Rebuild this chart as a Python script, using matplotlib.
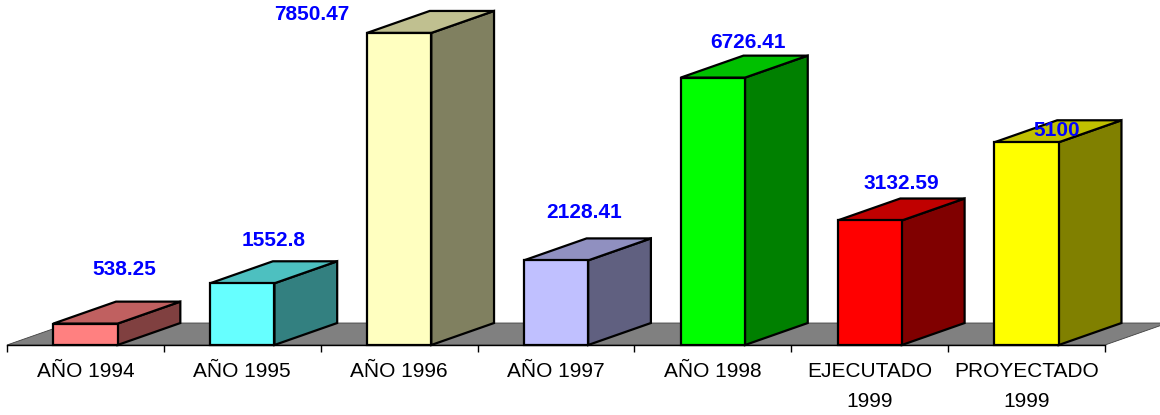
import matplotlib
matplotlib.use("Agg")
from matplotlib import pyplot as plt
from matplotlib.patches import Polygon, Rectangle

plt.rcParams['font.family'] = ['Liberation Sans', 'DejaVu Sans']

# data
categories = ["AÑO 1994", "AÑO 1995", "AÑO 1996", "AÑO 1997", "AÑO 1998",
              "EJECUTADO\n1999", "PROYECTADO\n1999"]
values = [538.25, 1552.8, 7850.47, 2128.41, 6726.41, 3132.59, 5100]
value_labels = ["538.25", "1552.8", "7850.47", "2128.41", "6726.41", "3132.59", "5100"]

# face colours: front, side, top
front_colors = ['#FF8080', '#66FFFF', '#FFFFC0', '#C0C0FF', '#00FF00', '#FF0000', '#FFFF00']
side_colors = ['#804040', '#338080', '#808060', '#606080', '#008000', '#800000', '#808000']
top_colors = ['#C06060', '#4DC0C0', '#C0C090', '#9090C0', '#00C000', '#C00000', '#C0C000']

# label offsets from front-top centre of each bar, in pixels (right, up)
label_offsets = [(39, 54), (31, 43), (-87, 18), (28, 48), (35, 35), (32, 37), (30, 12)]

W, H = 1160, 415
fig = plt.figure(figsize=(W / 100, H / 100), dpi=100)
ax = fig.add_axes([7 / W, 70 / H, (1105 - 7) / W, 345 / H])

ymax = 8679
ax.set_xlim(-0.5, 6.5)
ax.set_ylim(0, ymax)

bar_w = 0.41
dx = 0.40   # depth in category units
dy = 553    # depth in value units
lw = 1.6

# floor
floor = Polygon([(-0.5, 0), (6.5, 0), (6.5 + dx, dy), (-0.5 + dx, dy)],
                closed=True, facecolor='#808080', edgecolor='#404040',
                linewidth=0.6, clip_on=False, zorder=1)
ax.add_patch(floor)

for i, v in enumerate(values):
    x0 = i - bar_w / 2
    x1 = i + bar_w / 2
    side = Polygon([(x1, 0), (x1 + dx, dy), (x1 + dx, v + dy), (x1, v)],
                   closed=True, facecolor=side_colors[i], edgecolor='black',
                   linewidth=lw, clip_on=False, zorder=2, joinstyle='miter')
    top = Polygon([(x0, v), (x1, v), (x1 + dx, v + dy), (x0 + dx, v + dy)],
                  closed=True, facecolor=top_colors[i], edgecolor='black',
                  linewidth=lw, clip_on=False, zorder=2, joinstyle='miter')
    front = Rectangle((x0, 0), bar_w, v, facecolor=front_colors[i],
                      edgecolor='black', linewidth=lw, clip_on=False, zorder=3)
    ax.add_patch(side)
    ax.add_patch(top)
    ax.add_patch(front)
    ox, oy = label_offsets[i]
    ax.annotate(value_labels[i], (i, v), xytext=(ox * 0.72, oy * 0.72),
                textcoords='offset points', ha='center', va='center',
                color='#0000FF', fontsize=15, fontweight='bold',
                annotation_clip=False, zorder=5)

for s in ['top', 'right', 'left']:
    ax.spines[s].set_visible(False)
ax.spines['bottom'].set_linewidth(1.0)
ax.spines['bottom'].set_zorder(4)

ax.set_yticks([])
ax.set_xticks([i - 0.5 for i in range(len(values) + 1)])
ax.set_xticklabels([])
ax.tick_params(axis='x', which='major', length=5, width=1.0, direction='out')
ax.set_xticks(range(len(values)), minor=True)
ax.set_xticklabels(categories, minor=True, fontsize=15, linespacing=1.75, va='top')
ax.tick_params(axis='x', which='minor', length=0, pad=12)
ax.patch.set_visible(False)

fig.savefig('out.png', dpi=100)
